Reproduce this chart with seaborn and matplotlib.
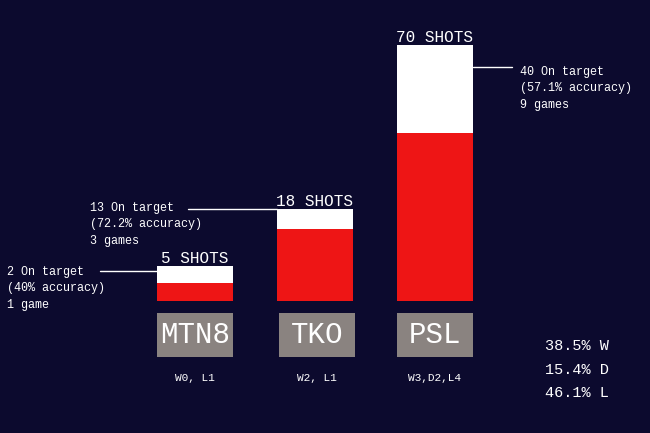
import numpy as np
import pandas as pd
import seaborn as sns
import matplotlib.pyplot as plt
from matplotlib.patches import Rectangle
from matplotlib.lines import Line2D

competitions = ["MTN8", "TKO", "PSL"]
shots = [5, 18, 70]
on_target = [2, 13, 40]
accuracy = ["40%", "72.2%", "57.1%"]
games = ["1 game", "3 games", "9 games"]
records = ["W0, L1", "W2, L1", "W3,D2,L4"]
summary = ["38.5% W", "15.4% D", "46.1% L"]

BG = "#0c0a2e"
RED = "#ee1515"
GREY = "#8a8380"
MONO = "Liberation Mono"

sns.set_theme(style="dark")
plt.rcParams["font.family"] = [MONO, "DejaVu Sans Mono"]

W, H = 650, 433
fig = plt.figure(figsize=(6.5, 4.33), dpi=100, facecolor=BG)

def fx(px):
    return px / W

def fy(py):
    return 1 - py / H

ax = fig.add_axes([0, fy(301), 1, fy(45) - fy(301)])
ax.set_facecolor(BG)
df = pd.DataFrame({"comp": competitions, "shots": shots, "on_target": on_target})
sns.barplot(data=df, x="comp", y="shots", color="white", width=0.63,
            saturation=1, ax=ax, linewidth=0)
sns.barplot(data=df, x="comp", y="on_target", color=RED, width=0.63,
            saturation=1, ax=ax, linewidth=0)
ax.set_yscale("function", functions=(lambda v: np.power(np.clip(v, 0, None), 0.75),
                                     lambda v: np.power(np.clip(v, 0, None), 1 / 0.75)))
ax.set_ylim(0, 70)
ax.set_xlim(-195 / 120, (650 - 195) / 120)
ax.axis("off")

for i, s in enumerate(shots):
    ax.text(i, s, f"{s} SHOTS", ha="center", va="bottom", color="white",
            fontsize=11.5)

# category boxes and records
centers = [195, 317, 435]
for c, name, rec in zip(centers, competitions, records):
    fig.add_artist(Rectangle((fx(c - 38), fy(357)), fx(76), fy(313) - fy(357),
                             transform=fig.transFigure, color=GREY, lw=0))
    fig.text(fx(c), fy(335), name, ha="center", va="center", color="white",
             fontsize=21)
    fig.text(fx(c), fy(378), rec, ha="center", va="center", color="white",
             fontsize=8)

# annotations
notes = [(7, 272, 100, 157, 271), (90, 208, 188, 277, 209), (520, 72, 512, 473, 67)]
for (tx, ty, l0, l1, ly), n, a, g in zip(notes, on_target, accuracy, games):
    lines = [f"{n} On target", f"({a} accuracy)", g]
    for k, t in enumerate(lines):
        fig.text(fx(tx), fy(ty + k * 16.5), t, ha="left", va="center",
                 color="white", fontsize=8.5)
    fig.add_artist(Line2D([fx(l0), fx(l1)], [fy(ly), fy(ly)],
                          transform=fig.transFigure, color="white", lw=1))

for k, t in enumerate(summary):
    fig.text(fx(545), fy(346 + k * 23.5), t, ha="left", va="center",
             color="white", fontsize=11)

fig.savefig("out.png", dpi=100, facecolor=BG)
